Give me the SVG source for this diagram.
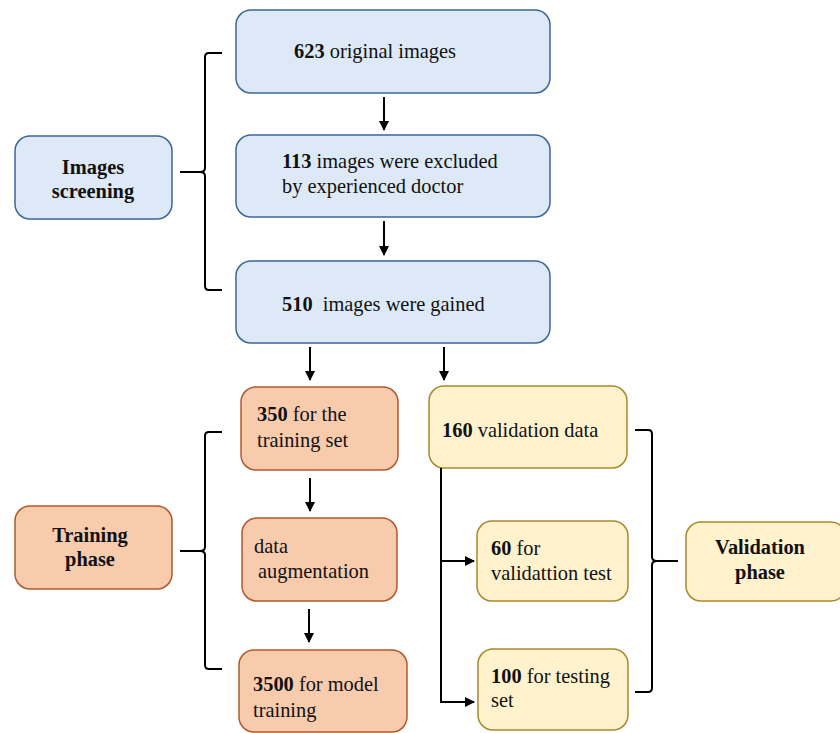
<svg xmlns="http://www.w3.org/2000/svg" width="840" height="733" viewBox="0 0 840 733" font-family="Liberation Serif, Times New Roman, DejaVu Serif, serif">
<style>
text{font-family:'Liberation Serif','Times New Roman','DejaVu Serif',serif;font-size:20.4px;fill:#111}
.b{font-weight:bold}
.blue{fill:#dde9f6;stroke:#3b6796;stroke-width:1.5}
.or{fill:#f8cbad;stroke:#b05a2c;stroke-width:1.5}
.ye{fill:#fff2cc;stroke:#a8892a;stroke-width:1.5}
.ln{fill:none;stroke:#000;stroke-width:2}
</style>
<defs>
<marker id="ah" viewBox="0 0 10 10" refX="9" refY="5" markerWidth="5" markerHeight="5" orient="auto" markerUnits="strokeWidth"><path d="M0,0L10,5L0,10z" fill="#000"/></marker>
</defs>
<rect width="840" height="733" fill="#fff"/>
<g id="n623"><rect class="blue" x="236" y="10" width="314" height="83" rx="15"/><text x="294" y="58"><tspan class="b">623</tspan> original images</text></g>
<g id="n113"><rect class="blue" x="236" y="135" width="314" height="82" rx="15"/><text x="282" y="168"><tspan class="b">113</tspan> images were excluded</text><text x="282" y="193">by experienced doctor</text></g>
<g id="n510"><rect class="blue" x="236" y="261" width="314" height="82" rx="15"/><text x="282" y="311" xml:space="preserve"><tspan class="b">510</tspan>  images were gained</text></g>
<g id="screening"><rect class="blue" x="15" y="136" width="157" height="83" rx="15"/><text class="b" x="93" y="174" text-anchor="middle">Images</text><text class="b" x="93" y="198" text-anchor="middle">screening</text></g>
<g id="n350"><rect class="or" x="241" y="387" width="157" height="83" rx="15"/><text x="257" y="421"><tspan class="b">350</tspan> for the</text><text x="257" y="447">training set</text></g>
<g id="aug"><rect class="or" x="242" y="518" width="155" height="83" rx="15"/><text x="254" y="553">data</text><text x="258" y="578">augmentation</text></g>
<g id="n3500"><rect class="or" x="239" y="650" width="168" height="82" rx="15"/><text x="253" y="691"><tspan class="b">3500</tspan> for model</text><text x="253" y="717">training</text></g>
<g id="training"><rect class="or" x="15" y="506" width="157" height="83" rx="15"/><text class="b" x="90" y="542" text-anchor="middle">Training</text><text class="b" x="90" y="566" text-anchor="middle">phase</text></g>
<g id="n160"><rect class="ye" x="429" y="386" width="198" height="82" rx="15"/><text x="442" y="437"><tspan class="b">160</tspan> validation data</text></g>
<g id="n60"><rect class="ye" x="477" y="521" width="151" height="80" rx="15"/><text x="491" y="555"><tspan class="b">60</tspan> for</text><text x="491" y="580">validattion test</text></g>
<g id="n100"><rect class="ye" x="478" y="649" width="150" height="81" rx="15"/><text x="491" y="683"><tspan class="b">100</tspan> for testing</text><text x="491" y="707">set</text></g>
<g id="validation"><rect class="ye" x="686" y="522" width="160" height="79" rx="15"/><text class="b" x="760" y="554" text-anchor="middle">Validation</text><text class="b" x="760" y="579" text-anchor="middle">phase</text></g>
<g id="connectors">
<path class="ln" d="M222,53H209Q205,53 205,57V168Q205,172 200,172H180M200,172Q205,172 205,176V286Q205,290 209,290H222"/>
<path class="ln" d="M222,432H209Q205,432 205,436V547Q205,551 200,551H180M200,551Q205,551 205,555V665Q205,669 209,669H222"/>
<path class="ln" d="M635,430H648Q652,430 652,434V557Q652,561 657,561H678M657,561Q652,561 652,565V688Q652,692 648,692H635"/>
<line class="ln" x1="384" y1="97" x2="384" y2="130" marker-end="url(#ah)"/>
<line class="ln" x1="384" y1="221" x2="384" y2="255" marker-end="url(#ah)"/>
<line class="ln" x1="310" y1="347" x2="310" y2="380" marker-end="url(#ah)"/>
<line class="ln" x1="444" y1="347" x2="444" y2="380" marker-end="url(#ah)"/>
<line class="ln" x1="310" y1="478" x2="310" y2="511" marker-end="url(#ah)"/>
<line class="ln" x1="309" y1="609" x2="309" y2="642" marker-end="url(#ah)"/>
<path class="ln" d="M441,468V702H474" marker-end="url(#ah)"/>
<path class="ln" d="M441,561H474" marker-end="url(#ah)"/>
</g>
</svg>
